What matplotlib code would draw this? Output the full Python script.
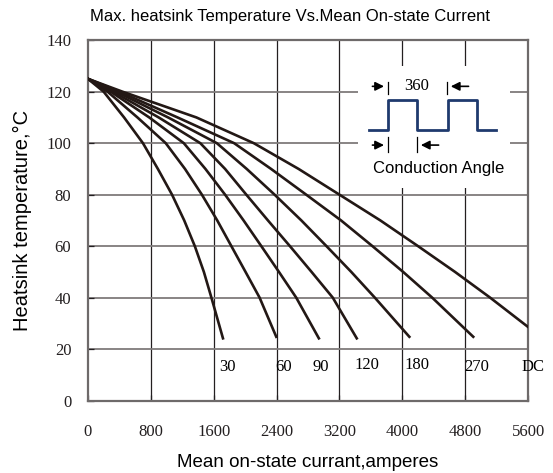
import matplotlib
matplotlib.use("Agg")
import matplotlib.pyplot as plt
from matplotlib.patches import Rectangle

# curve data (current in A, temperature in degC)
angles = ["30", "60", "90", "120", "180", "270", "DC"]
temps = [125, 120, 110, 100, 90, 80, 70, 60, 50, 40]
cur_30 = [0, 200, 460, 700, 890, 1070, 1225, 1360, 1475, 1571, 1718]
cur_60 = [0, 250, 630, 990, 1235, 1450, 1645, 1825, 2005, 2184, 2396]
cur_90 = [0, 290, 780, 1220, 1495, 1745, 1980, 2206, 2430, 2650, 2938]
cur_120 = [0, 320, 900, 1430, 1745, 2015, 2290, 2570, 2845, 3115, 3420]
cur_180 = [0, 360, 1020, 1640, 2020, 2375, 2715, 3035, 3350, 3650, 4089]
cur_270 = [0, 400, 1140, 1860, 2330, 2777, 3220, 3620, 4010, 4380, 4902]
cur_dc = [0, 440, 1380, 2110, 2680, 3200, 3720, 4200, 4670, 5117, 5600]
end_temps = [24.2, 24.8, 24.2, 24.2, 24.8, 24.8, 28.6]

currents = [cur_30, cur_60, cur_90, cur_120, cur_180, cur_270, cur_dc]

# where the angle labels sit
label_x = [1778, 2489, 2959, 3543, 4190, 4952, 5663]
label_y = [13, 13, 13, 14, 14, 13, 13]

x_ticks = [0, 800, 1600, 2400, 3200, 4000, 4800, 5600]
y_ticks = [0, 20, 40, 60, 80, 100, 120, 140]

serif = "Liberation Serif"
sans = "Liberation Sans"

fig = plt.figure(figsize=(5.53, 4.73), dpi=100)
ax = fig.add_axes([0.159, 0.153, 0.796, 0.762])
ax.set_xlim(0, 5600)
ax.set_ylim(0, 140)

# grid
for x in x_ticks[1:-1]:
    ax.axvline(x, color="#231f20", lw=0.9, zorder=1)
for y in y_ticks[1:-1]:
    ax.axhline(y, color="#7f7b7b", lw=1.3, zorder=1)

# white box behind the inset sketch
ax.add_patch(Rectangle((0.613, 0.589), 0.346, 0.339, transform=ax.transAxes,
                       facecolor="white", edgecolor="none", zorder=2))

for xs, t_end in zip(currents, end_temps):
    ys = temps + [t_end]
    ax.plot(xs, ys, color="#231815", lw=1.9, zorder=3, solid_joinstyle="round")

for lab, lx, ly in zip(angles, label_x, label_y):
    ax.text(lx, ly, lab, fontsize=12, family=serif, ha="center", va="center",
            zorder=5, clip_on=False)

# conduction angle sketch
wx = [0.639, 0.681, 0.681, 0.748, 0.748, 0.817, 0.817, 0.884, 0.884, 0.927]
wy = [0.752, 0.752, 0.834, 0.834, 0.752, 0.752, 0.834, 0.834, 0.752, 0.752]
ax.plot(wx, wy, color="#1f3a6e", lw=2.0, transform=ax.transAxes, zorder=4)

arrow = dict(arrowstyle="-|>", color="black", lw=1.2, mutation_scale=13)
for x0, x1, y in [(0.640, 0.679, 0.872), (0.871, 0.818, 0.872),
                  (0.640, 0.679, 0.709), (0.803, 0.750, 0.709)]:
    ax.annotate("", xy=(x1, y), xytext=(x0, y), xycoords="axes fraction",
                arrowprops=arrow, zorder=4)
for x, y0, y1 in [(0.681, 0.852, 0.884), (0.816, 0.852, 0.884),
                  (0.681, 0.690, 0.732), (0.748, 0.690, 0.732)]:
    ax.plot([x, x], [y0, y1], color="black", lw=0.9, transform=ax.transAxes, zorder=4)

ax.text(0.747, 0.872, "360", fontsize=12, family=serif, ha="center", va="center",
        transform=ax.transAxes, zorder=4)
ax.text(0.797, 0.645, "Conduction Angle", fontsize=12, family=sans, ha="center",
        va="center", transform=ax.transAxes, zorder=4)

# axes styling
ax.set_xticks(x_ticks)
ax.set_yticks(y_ticks)
ax.tick_params(direction="in", length=4, width=0.9, colors="#231f20")
ax.tick_params(axis="x", pad=17)
ax.tick_params(axis="y", pad=12)
for lbl in ax.get_xticklabels() + ax.get_yticklabels():
    lbl.set_fontfamily(serif)
    lbl.set_fontsize(12)
for s in ax.spines.values():
    s.set_color("#6e6a6a")
    s.set_linewidth(1.6)

ax.set_xlabel("Mean on-state currant,amperes", fontsize=13.5, family=sans, labelpad=10)
ax.set_ylabel("Heatsink temperature,\u00b0C", fontsize=14.5, family=sans, labelpad=10)

fig.text(0.163, 0.966, "Max. heatsink Temperature Vs.Mean On-state Current",
         fontsize=12, family=sans, ha="left", va="center")

fig.savefig("out.png", dpi=100)
